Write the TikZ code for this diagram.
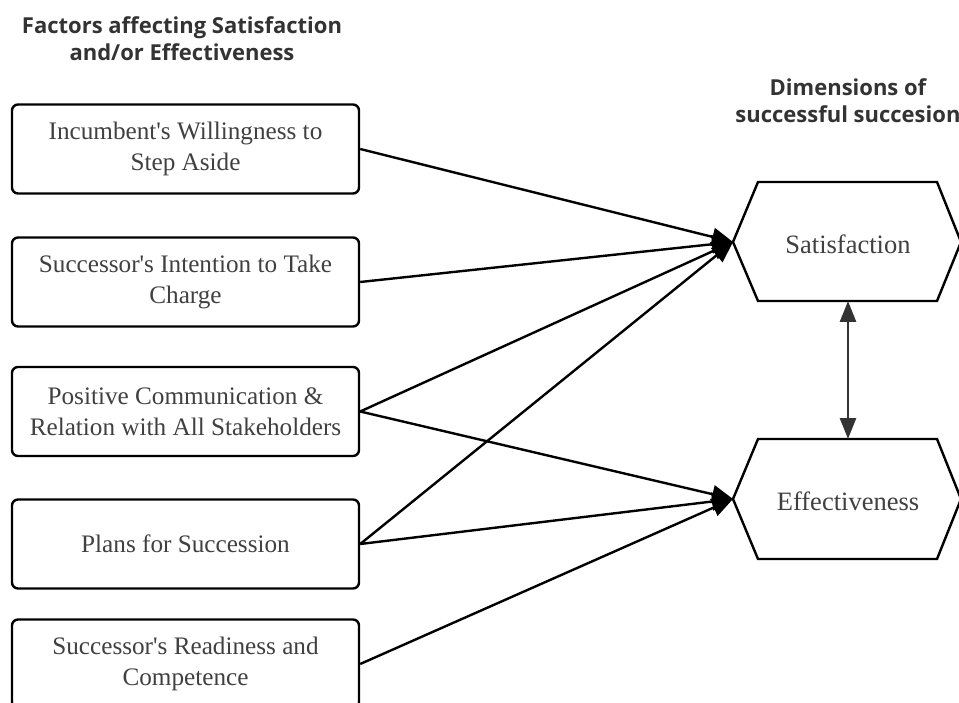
\documentclass[tikz,border=0pt]{standalone}
\usepackage{fontspec}
\setmainfont{Liberation Serif}
\newfontfamily\titlefont{Open Sans}
\usetikzlibrary{arrows.meta,shapes.geometric}
\definecolor{txtgray}{HTML}{404040}
\definecolor{ttlgray}{HTML}{333333}
\newcommand{\apos}{\textquotesingle}
\begin{document}
\begin{tikzpicture}[x=1pt,y=-1pt,
  factor/.style={draw=black, line width=2.4pt, rounded corners=6pt, minimum width=347pt, minimum height=89pt,
    inner sep=0pt, align=center, text=txtgray, font=\fontsize{25.2}{31}\selectfont},
  dimhex/.style={text=txtgray, font=\fontsize{26.5}{30}\selectfont},
  ttl/.style={align=center, text=ttlgray, font=\titlefont\bfseries\fontsize{22}{27}\selectfont},
  link/.style={line width=2.4pt, -{Triangle[length=21pt,width=18pt]}},
  bilink/.style={line width=2.6pt, draw=ttlgray, {Triangle[length=21pt,width=16pt]}-{Triangle[length=21pt,width=16pt]}}
]
\useasboundingbox (0,0) rectangle (959,703);
\fill[white] (0,0) rectangle (959,703);

\node[ttl] (t1) at (182,39) {Factors affecting Satisfaction\\and/or Effectiveness};
\node[ttl] (t2) at (848,101) {Dimensions of\\successful succesion};

\node[factor] (f1) at (185.5,149) {Incumbent\apos s Willingness to\\Step Aside};
\node[factor] (f2) at (185.5,282) {Successor\apos s Intention to Take\\Charge};
\node[factor] (f3) at (185.5,411.5) {Positive Communication \&\\Relation with All Stakeholders};
\node[factor] (f4) at (185.5,544) {Plans for Succession};
\node[factor] (f5) at (185.5,664) {Successor\apos s Readiness and\\Competence};

% hexagons
\coordinate (sL) at (733,242);
\coordinate (eL) at (733,499);
\draw[line width=2.4pt, line join=miter] (sL) -- (758,182) -- (937,182) -- (961,242) -- (937,301) -- (758,301) -- cycle;
\draw[line width=2.4pt, line join=miter] (eL) -- (758,439) -- (937,439) -- (961,499) -- (937,559) -- (758,559) -- cycle;
\node[dimhex] (sat) at (848,244) {Satisfaction};
\node[dimhex] (eff) at (848,501) {Effectiveness};
\coordinate (satB) at (848,301);
\coordinate (effT) at (848,439);

\draw[link] (f1.east) -- (sL);
\draw[link] (f2.east) -- (sL);
\draw[link] (f3.east) -- (sL);
\draw[link] (f3.east) -- (eL);
\draw[link] (f4.east) -- (sL);
\draw[link] (f4.east) -- (eL);
\draw[link] (f5.east) -- (eL);

\draw[bilink] (satB) -- (effT);
\end{tikzpicture}
\end{document}
